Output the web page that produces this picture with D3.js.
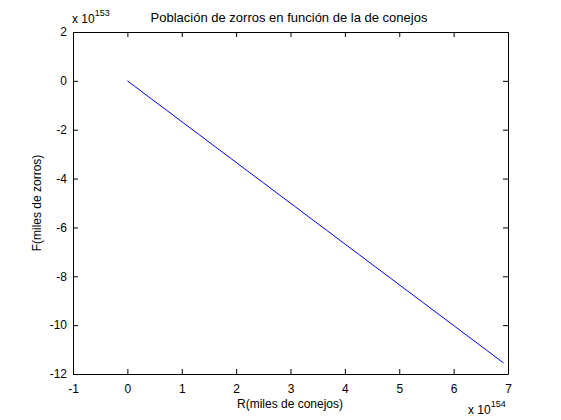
<!DOCTYPE html>
<html><head><meta charset="utf-8">
<script src="https://cdn.jsdelivr.net/npm/d3@7"></script>
<style>body{margin:0;background:#fff}svg{display:block}text{font-family:"Liberation Sans",Arial,sans-serif;fill:#000}</style>
</head><body>
<script>
const rabbits = [0, 6.92e154];
const foxes = [0, -11.55e153];
const xTicks = [-1, 0, 1, 2, 3, 4, 5, 6, 7];
const yTicks = [2, 0, -2, -4, -6, -8, -10, -12];
const xExp = 154, yExp = 153;
const title = "Población de zorros en función de la de conejos";
const xLabel = "R(miles de conejos)";
const yLabel = "F(miles de zorros)";

const W = 561, H = 420;
const m = {l: 73, t: 32, r: 561 - 508, b: 420 - 374};
const svg = d3.select("body").append("svg").attr("width", W).attr("height", H);
const x = d3.scaleLinear().domain([-1, 7]).range([m.l, W - m.r]);
const y = d3.scaleLinear().domain([-12, 2]).range([H - m.b, m.t]);
const xs = 10 ** xExp, ys = 10 ** yExp;
const pts = rabbits.map((r, i) => [r / xs, foxes[i] / ys]);

const tl = -5;
const fmt = d => d3.format("d")(d).replace("−", "-");
const g = svg.append("g").attr("font-size", 11);
const axB = g.append("g").attr("transform", `translate(0,${H - m.b})`)
  .call(d3.axisBottom(x).tickValues(xTicks).tickSizeInner(tl).tickSizeOuter(0).tickPadding(10).tickFormat(fmt));
const axT = g.append("g").attr("transform", `translate(0,${m.t})`)
  .call(d3.axisTop(x).tickValues(xTicks).tickSizeInner(tl).tickSizeOuter(0).tickFormat(""));
const axL = g.append("g").attr("transform", `translate(${m.l},0)`)
  .call(d3.axisLeft(y).tickValues(yTicks).tickSizeInner(tl).tickSizeOuter(0).tickPadding(6).tickFormat(fmt));
const axR = g.append("g").attr("transform", `translate(${W - m.r},0)`)
  .call(d3.axisRight(y).tickValues(yTicks).tickSizeInner(tl).tickSizeOuter(0).tickFormat(""));
[axB, axT, axL, axR].forEach(a => {
  a.selectAll("text").attr("font-size", 12).attr("font-family", '"Liberation Sans",Arial,sans-serif').attr("fill", "#000");
  a.selectAll("line").attr("stroke", "#000");
  a.select(".domain").attr("stroke", "#000");
});

svg.append("path").datum(pts)
  .attr("fill", "none").attr("stroke", "#0000ff").attr("stroke-width", 1)
  .attr("d", d3.line().x(d => x(d[0])).y(d => y(d[1])));

svg.append("text").attr("x", 289).attr("y", 22).attr("text-anchor", "middle").attr("font-size", 13).text(title);
svg.append("text").attr("x", 290).attr("y", 408).attr("text-anchor", "middle").attr("font-size", 12).text(xLabel);
svg.append("text").attr("transform", "translate(41,203) rotate(-90)").attr("text-anchor", "middle").attr("font-size", 12).text(yLabel);

const e1 = svg.append("text").attr("x", 72).attr("y", 23).attr("font-size", 12);
e1.append("tspan").text("x 10");
e1.append("tspan").attr("dy", -7).attr("font-size", 9).text(yExp);
const e2 = svg.append("text").attr("x", 468).attr("y", 414).attr("font-size", 12);
e2.append("tspan").text("x 10");
e2.append("tspan").attr("dy", -7).attr("font-size", 9).text(xExp);
</script>
</body></html>
